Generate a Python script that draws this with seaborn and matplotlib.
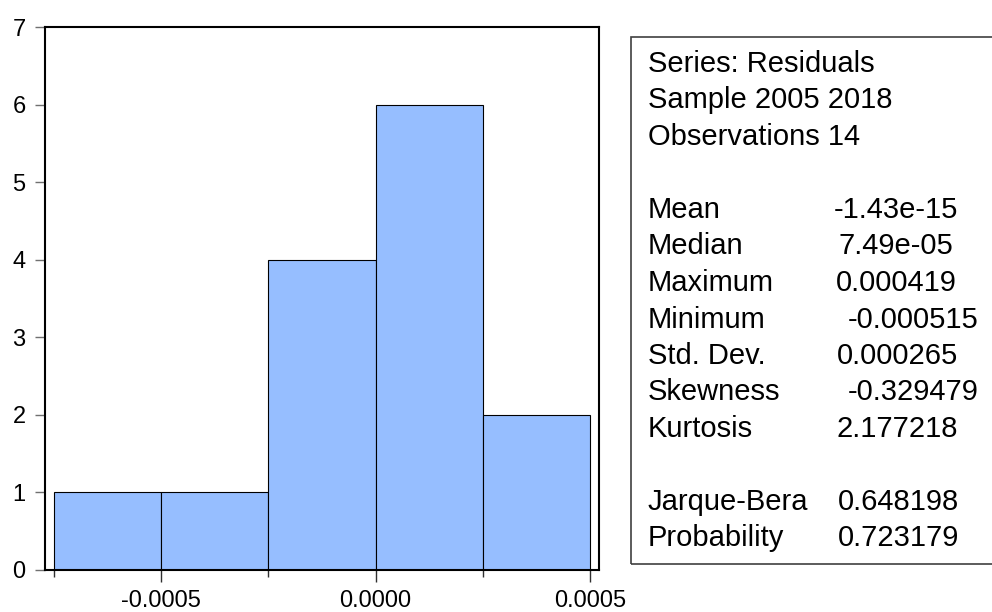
import numpy as np
import pandas as pd
import matplotlib
matplotlib.use("Agg")
import matplotlib.pyplot as plt
from matplotlib.patches import Rectangle
from matplotlib.ticker import FixedLocator
import seaborn as sns

# Histogram of residuals (bin edges and counts)
bin_edges = [-0.00075, -0.0005, -0.00025, 0.0, 0.00025, 0.0005]
counts = [1, 1, 4, 6, 2]

# Summary statistics panel
header_lines = ["Series: Residuals", "Sample 2005 2018", "Observations 14"]
stat_names = ["Mean", "Median", "Maximum", "Minimum", "Std. Dev.", "Skewness", "Kurtosis"]
stat_values = ["-1.43e-15", "7.49e-05", "0.000419", "-0.000515", "0.000265", "-0.329479", "2.177218"]
test_names = ["Jarque-Bera", "Probability"]
test_values = ["0.648198", "0.723179"]

sns.set_style("white")
plt.rcParams["font.family"] = ["Liberation Sans", "DejaVu Sans"]
plt.rcParams["text.color"] = "black"

W, H = 992, 612
fig = plt.figure(figsize=(W / 100, H / 100), dpi=100)
ax = fig.add_axes([45 / W, 1 - 570 / H, (599 - 45) / W, (570 - 27) / H])

centers = [(a + b) / 2 for a, b in zip(bin_edges[:-1], bin_edges[1:])]
df = pd.DataFrame({"resid": centers, "n": counts})
sns.histplot(data=df, x="resid", weights="n", bins=bin_edges, ax=ax,
             color="#96BEFF", alpha=1.0, edgecolor="black", linewidth=0.8)

ax.set_xlim(-0.000771, 0.000521)
ax.set_ylim(0, 7)
ax.set_xlabel("")
ax.set_ylabel("")
ax.set_yticks(range(0, 8))
ax.set_xticks([-0.0005, 0.0, 0.0005])
ax.set_xticklabels(["-0.0005", "0.0000", "0.0005"])
ax.xaxis.set_minor_locator(FixedLocator([-0.00075, -0.00025, 0.00025]))
ax.tick_params(axis="y", which="major", length=7, width=1, color="#707070",
               labelsize=17, labelcolor="black", pad=7, left=True)
ax.tick_params(axis="x", which="major", length=8.5, width=1, color="#303030",
               labelsize=17, labelcolor="black", pad=6, bottom=True)
ax.tick_params(axis="x", which="minor", length=5, width=1, color="#303030", bottom=True)
for side in ["left", "bottom", "top", "right"]:
    ax.spines[side].set_visible(True)
    ax.spines[side].set_color("black")
    ax.spines[side].set_linewidth(1.5)

# stats box
box = Rectangle((631 / W, 1 - 564 / H), 400 / W, (564 - 37) / H,
                transform=fig.transFigure, fill=False, edgecolor="#404040",
                linewidth=1.2, clip_on=False)
fig.patches.append(box)

fs = 21
step = 36.5
y0 = 64
label_x = 648
value_x = [834, 839, 836, 848, 837, 848, 837]
test_x = [838, 838]


def fy(py):
    return 1 - py / H


for i, line in enumerate(header_lines):
    fig.text(label_x / W, fy(y0 + i * step), line, fontsize=fs, va="center", ha="left")
for i, (name, val) in enumerate(zip(stat_names, stat_values)):
    yy = fy(y0 + (4 + i) * step)
    fig.text(label_x / W, yy, name, fontsize=fs, va="center", ha="left")
    fig.text(value_x[i] / W, yy, val, fontsize=fs, va="center", ha="left")
for i, (name, val) in enumerate(zip(test_names, test_values)):
    yy = fy(y0 + (12 + i) * step)
    fig.text(label_x / W, yy, name, fontsize=fs, va="center", ha="left")
    fig.text(test_x[i] / W, yy, val, fontsize=fs, va="center", ha="left")

fig.savefig("out.png", dpi=100)
